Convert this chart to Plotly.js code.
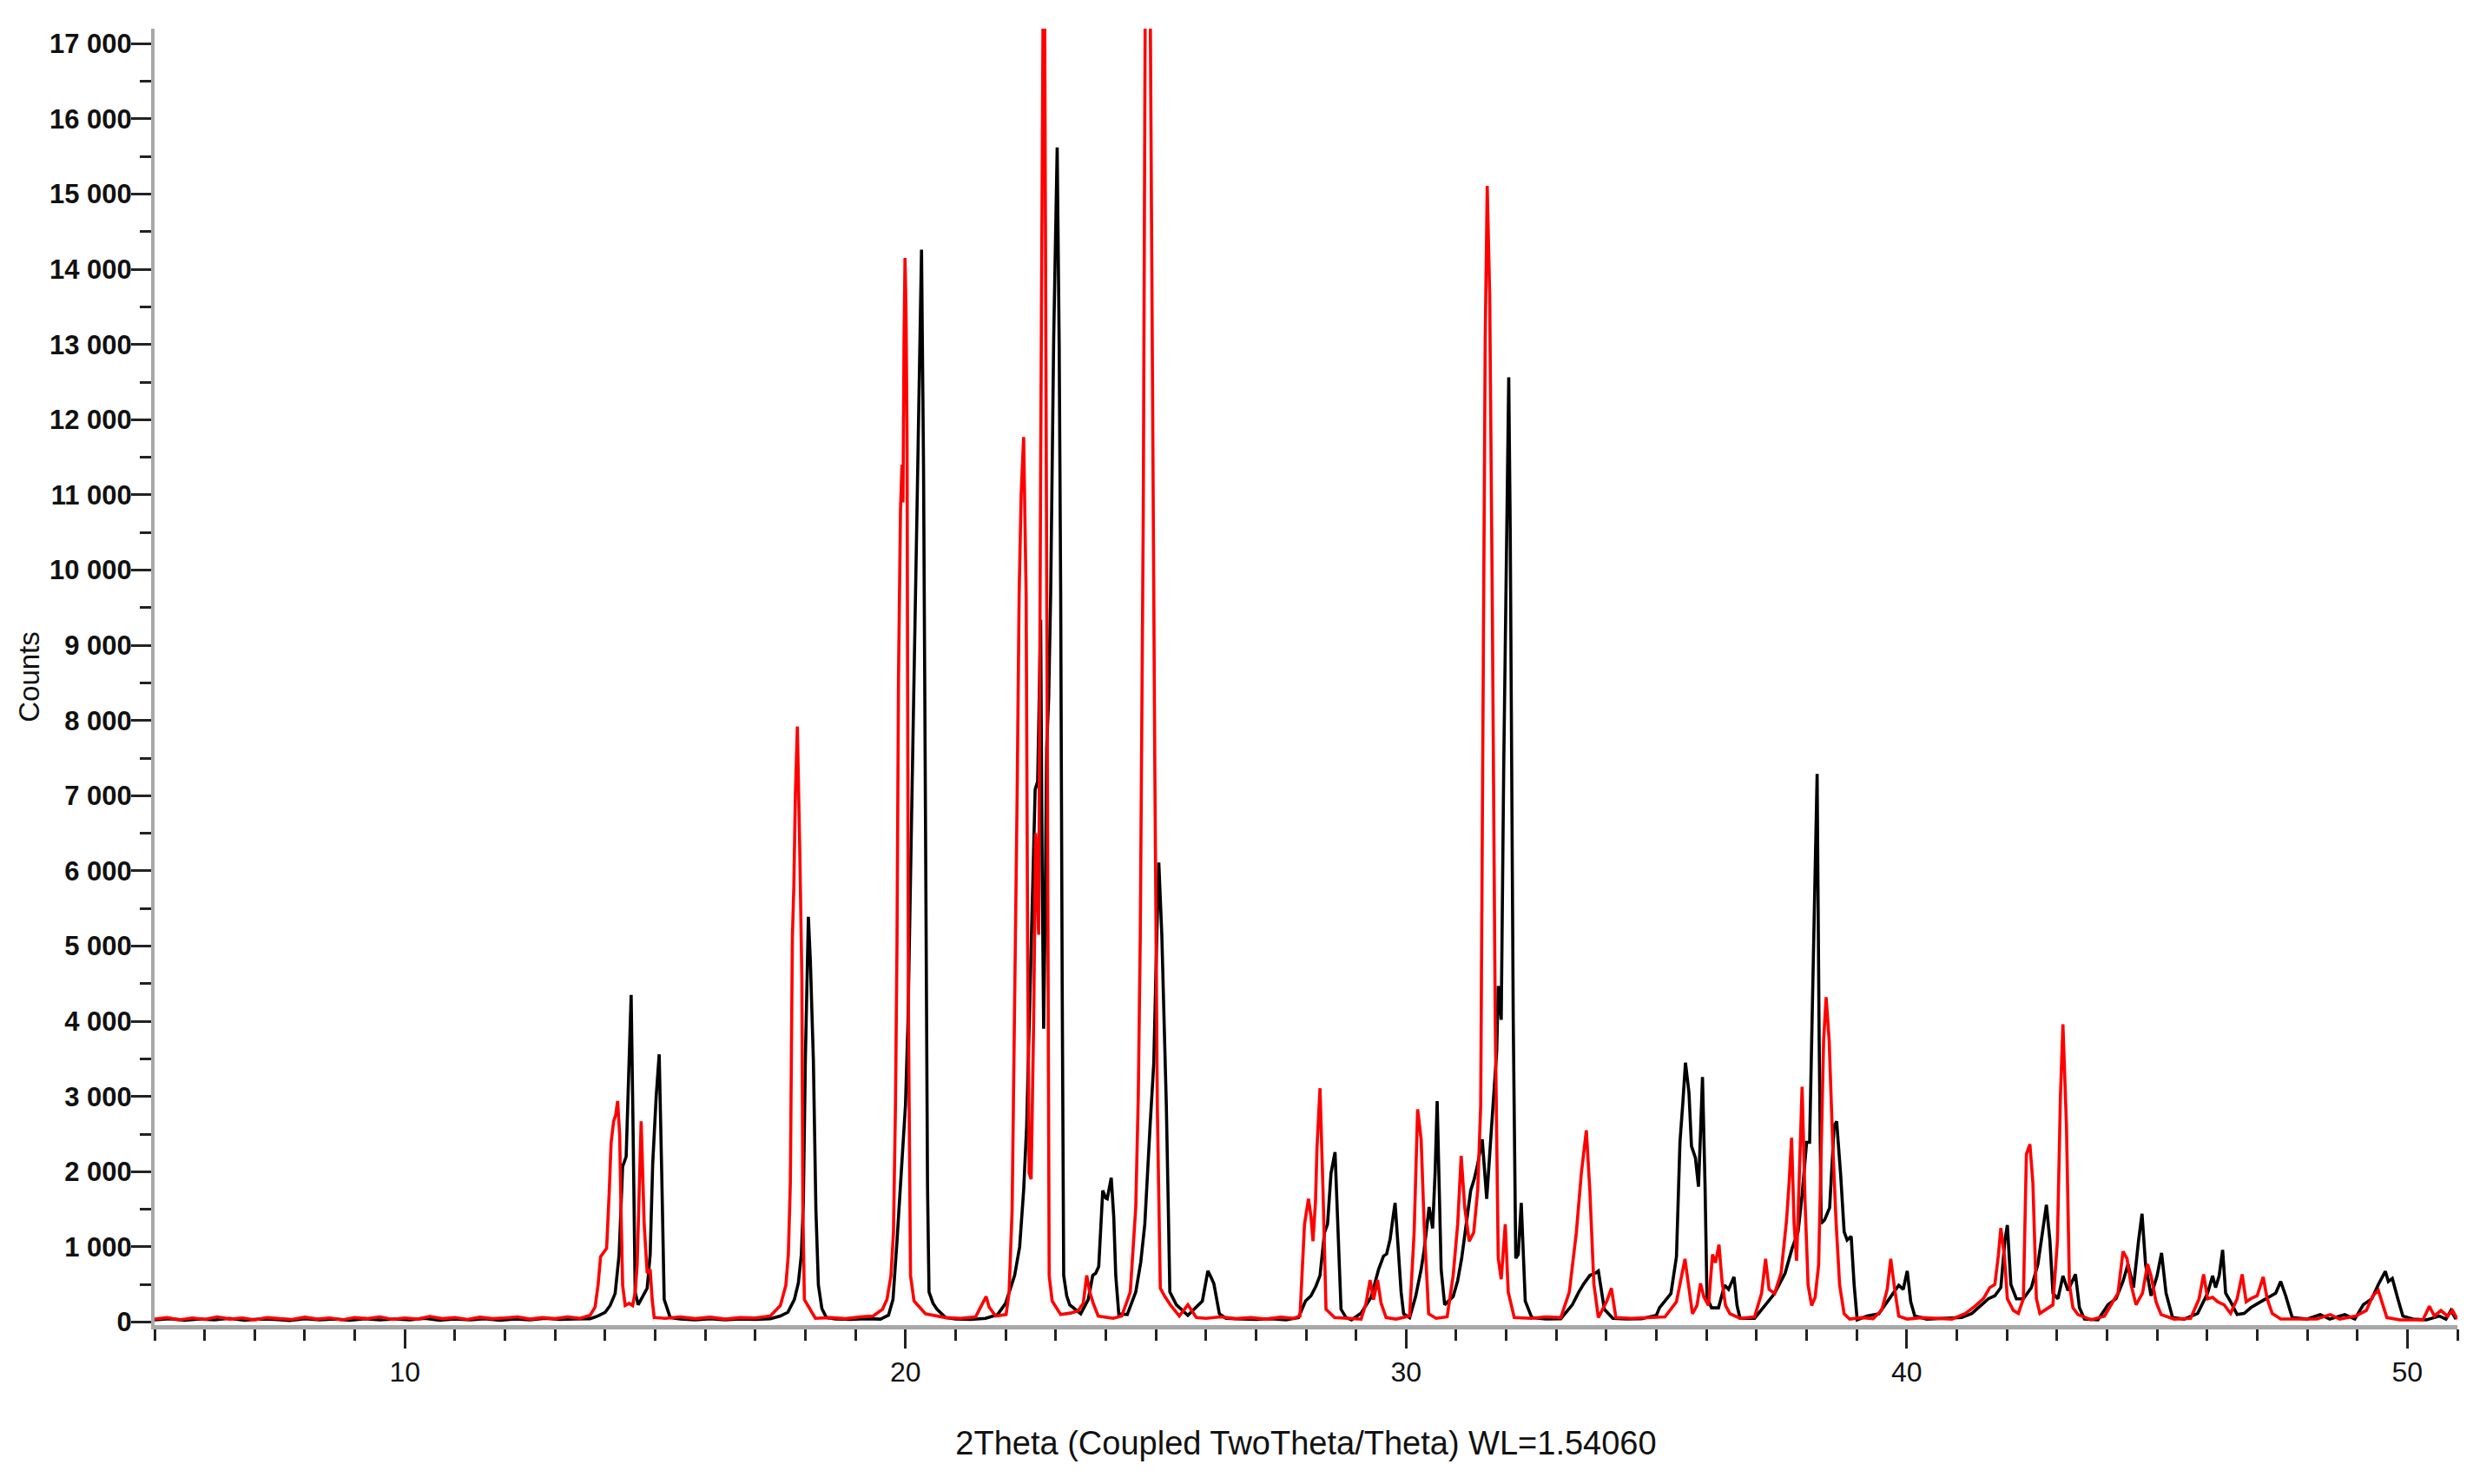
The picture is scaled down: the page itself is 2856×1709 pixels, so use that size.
<!DOCTYPE html>
<html>
<head>
<meta charset="utf-8">
<script src="https://cdn.plot.ly/plotly-3.0.1.min.js"></script>
<style>
  html, body { margin: 0; padding: 0; background: #fff; }
  #GRAPH { width: 2856px; height: 1709px; }
</style>
</head>
<body>
<div id="GRAPH"></div>
<script>
// 2Theta positions and counts
var blackX = [
  5.0, 5.3, 5.6, 5.9, 6.2, 6.5, 6.8, 7.1, 7.4, 7.7, 8.0, 8.3, 8.6, 8.9, 9.2, 9.5, 9.8, 10.1, 10.4, 10.7,
  11.0, 11.3, 11.6, 11.9, 12.2, 12.5, 12.8, 13.1, 13.4, 13.7,
  13.85, 14.0, 14.1, 14.2, 14.28, 14.35, 14.42, 14.47, 14.52, 14.56, 14.6, 14.66, 14.75, 14.84, 14.9, 14.95,
  15.02, 15.08, 15.13, 15.18, 15.3, 15.5, 15.8, 16.1, 16.4, 16.7, 17.0, 17.3,
  17.5, 17.65, 17.78, 17.86, 17.92, 17.96, 18.0, 18.03, 18.06, 18.1, 18.16, 18.21, 18.26, 18.33, 18.42, 18.6,
  18.9, 19.2, 19.5,
  19.66, 19.75, 19.83, 19.92, 20.0, 20.05, 20.09, 20.13, 20.17, 20.23, 20.28, 20.32, 20.36, 20.39, 20.41,
  20.44, 20.47, 20.55, 20.63, 20.8, 21.0, 21.3, 21.6, 21.84,
  22.0, 22.18, 22.28, 22.36, 22.42, 22.47, 22.53, 22.59, 22.64, 22.7, 22.73, 22.76, 22.79, 22.82, 22.86,
  22.9, 22.96, 23.03, 23.07, 23.1, 23.13, 23.16, 23.22, 23.28, 23.5, 23.65,
  23.74, 23.8, 23.86, 23.94, 24.0, 24.03, 24.11, 24.16, 24.2, 24.26, 24.43, 24.6, 24.7, 24.78, 24.89, 24.96,
  25.02, 25.06, 25.12, 25.17, 25.21, 25.25, 25.28, 25.41, 25.64, 25.93, 26.04, 26.1, 26.16, 26.27, 26.4,
  26.7, 27.0, 27.3, 27.6, 27.85,
  27.99, 28.1, 28.2, 28.28, 28.37, 28.43, 28.5, 28.58, 28.64, 28.7, 28.8, 28.91,
  29.1, 29.3, 29.45, 29.55, 29.61, 29.68, 29.74, 29.78, 29.84, 29.9, 29.95, 30.07, 30.19, 30.3, 30.36,
  30.46, 30.53, 30.58, 30.62, 30.66, 30.7, 30.77, 30.94, 31.03, 31.11, 31.2, 31.29, 31.36, 31.43, 31.52,
  31.61, 31.69, 31.76, 31.81, 31.84, 31.9, 31.95, 32.01, 32.05, 32.08, 32.1, 32.14, 32.19, 32.24, 32.3,
  32.34, 32.38, 32.51, 32.8, 33.09, 33.32, 33.45, 33.55, 33.67, 33.78, 33.84, 33.9, 33.96, 34.13, 34.4,
  34.7, 35.0,
  35.06, 35.17, 35.29, 35.4, 35.47, 35.53, 35.58, 35.65, 35.7, 35.78, 35.84, 35.88, 35.92, 35.97, 36.01,
  36.1, 36.24, 36.36, 36.44, 36.55, 36.61, 36.67, 36.96, 37.13, 37.36, 37.57, 37.71, 37.83, 37.91, 38.0,
  38.06, 38.11, 38.17, 38.21, 38.25, 38.29, 38.36, 38.46, 38.55, 38.6, 38.68, 38.75, 38.81, 38.89, 38.95,
  39.01, 39.21, 39.44, 39.61, 39.73, 39.84, 39.93, 40.01, 40.08, 40.16, 40.4, 40.7,
  41.1, 41.3, 41.5, 41.63, 41.76, 41.88, 41.96, 42.01, 42.08, 42.19, 42.33, 42.49, 42.62, 42.72, 42.79,
  42.86, 42.92, 43.02, 43.12, 43.22, 43.37, 43.45, 43.55, 43.82, 44.02, 44.18, 44.32, 44.42, 44.53, 44.63,
  44.7, 44.77, 44.88, 45.0, 45.09, 45.18, 45.31, 45.54, 45.81, 46.01, 46.11, 46.17, 46.24, 46.31, 46.37,
  46.47, 46.6, 46.74, 46.87, 47.07, 47.27, 47.37, 47.47, 47.57, 47.7, 48.0, 48.26, 48.45, 48.75, 48.95,
  49.12, 49.29, 49.42, 49.56, 49.62, 49.7, 49.81, 49.91, 50.11, 50.38, 50.64, 50.77, 50.87, 50.97
];
var blackY = [
  30, 45, 25, 40, 30, 50, 25, 40, 35, 20, 45, 30, 40, 25, 45, 30, 40, 30, 50, 25,
  40, 30, 45, 25, 40, 30, 50, 35, 40, 45,
  80, 130, 220, 380, 900, 2070, 2200, 3300, 4350, 2500, 400, 230, 330, 450, 900, 2100,
  3000, 3560, 2000, 300, 60, 40, 30, 45, 30, 40, 35, 45,
  80, 130, 300, 520, 900, 1600, 3500, 4600, 5390, 4800, 3480, 1500, 490, 180, 60, 40,
  35, 45, 40,
  90, 300, 1075, 2000, 2890, 4000, 5720, 7100, 8550, 10800, 12500, 14260, 11400, 7500, 4000,
  1800, 400, 250, 170, 60, 40, 35, 50, 100,
  250, 620, 1000, 1750, 2600, 4000, 5700, 7080, 7190, 9340, 6000, 3900, 5500, 7640, 8300,
  9680, 13070, 15620, 13000, 9680, 4500, 620, 350, 230, 110, 300,
  620, 650, 740, 1750, 1650, 1640, 1920, 1400, 620, 110, 100, 400, 800, 1300, 2660, 3450,
  5150, 6110, 5150, 4000, 2890, 1500, 400, 230, 90, 280, 680, 600, 510, 110, 50,
  40, 35, 45, 30, 60,
  280, 350, 480, 620, 1190, 1300, 1980, 2260, 1190, 170, 60, 30,
  120, 330, 700, 880, 905, 1100, 1400, 1585, 1000, 400, 110, 60, 340, 700, 960,
  1530, 1245, 2000, 2940, 1800, 700, 230, 340, 550, 850, 1300, 1750, 1900, 2100, 2430,
  1640, 2430, 3110, 3600, 4470, 4020, 7415, 10800, 12565, 10500, 8550, 4020, 850, 900, 1585,
  900, 280, 60, 40, 45, 230, 400, 510, 620, 650, 680, 450, 170, 50, 40,
  45, 90,
  190, 280, 380, 870, 2390, 2940, 3450, 3050, 2340, 2180, 1800, 2500, 3260, 1850, 330,
  190, 190, 490, 435, 600, 220, 50, 50, 190, 380, 650, 980, 1200, 1690, 2390,
  2390, 4030, 6200, 7290, 3810, 1310, 1360, 1520, 2610, 2670, 1960, 1200, 1090, 1140, 490,
  30, 80, 110, 270, 380, 490, 435, 680, 270, 80, 40, 45,
  60, 115, 230, 310, 350, 460, 1080, 1290, 500, 310, 310, 460, 770, 1230, 1560,
  1080, 385, 310, 615, 420, 635, 190, 40, 30, 230, 310, 540, 770, 460, 1080,
  1440, 770, 350, 615, 920, 385, 60, 40, 115, 385, 615, 460, 615, 960, 385,
  270, 100, 115, 190, 270, 350, 385, 540, 350, 60, 40, 100, 40, 100, 40,
  230, 310, 500, 675, 540, 580, 310, 80, 40, 30, 80, 40, 155, 40
];

var redX = [
  5.0, 5.25, 5.5, 5.75, 6.0, 6.25, 6.5, 6.75, 7.0, 7.25, 7.5, 7.75, 8.0, 8.25, 8.5, 8.75, 9.0, 9.25, 9.5, 9.75,
  10.0, 10.25, 10.5, 10.75, 11.0, 11.25, 11.5, 11.75, 12.0, 12.25, 12.5, 12.75, 13.0, 13.25, 13.5, 13.7,
  13.8, 13.86, 13.91, 14.03, 14.08, 14.12, 14.17, 14.21, 14.25, 14.29, 14.32, 14.35, 14.4, 14.48, 14.55,
  14.6, 14.64, 14.68, 14.72, 14.75, 14.78, 14.84, 14.9, 14.94, 14.98, 15.2, 15.5, 15.8, 16.1, 16.4, 16.7,
  17.0, 17.3,
  17.5, 17.61, 17.66, 17.7, 17.74, 17.77, 17.8, 17.84, 17.89, 17.93, 17.95, 17.98, 18.05, 18.2, 18.5, 18.8,
  19.1, 19.35, 19.54,
  19.63, 19.71, 19.76, 19.8, 19.83, 19.86, 19.9, 19.93, 19.95, 19.97, 19.99, 20.01, 20.03, 20.06, 20.1,
  20.17, 20.4, 20.8, 21.1, 21.4, 21.55, 21.61, 21.67, 21.8, 22.01,
  22.07, 22.13, 22.18, 22.23, 22.27, 22.31, 22.36, 22.41, 22.44, 22.47, 22.51, 22.56, 22.6, 22.63, 22.66,
  22.7, 22.74, 22.76, 22.78, 22.82, 22.85, 22.87, 22.93, 23.1, 23.3, 23.45, 23.55, 23.62, 23.68, 23.75,
  23.85, 24.0, 24.15, 24.32, 24.49, 24.6, 24.65, 24.69, 24.75, 24.8, 24.84, 24.88, 24.92, 24.95, 24.98,
  25.03, 25.09, 25.18, 25.29, 25.47, 25.64, 25.81, 26.0, 26.3, 26.6, 26.9, 27.2, 27.5, 27.75, 27.88,
  27.97, 28.05, 28.1, 28.14, 28.19, 28.22, 28.28, 28.34, 28.4, 28.57, 28.8, 29.1, 29.2, 29.28, 29.35,
  29.43, 29.5, 29.6, 29.8, 30.07, 30.16, 30.23, 30.3, 30.36, 30.45, 30.6, 30.82, 30.94, 31.03, 31.1,
  31.17, 31.26, 31.35, 31.43, 31.49, 31.53, 31.58, 31.62, 31.67, 31.72, 31.78, 31.84, 31.9, 31.98, 32.04,
  32.16, 32.5, 32.8, 33.09, 33.26, 33.4, 33.5, 33.6, 33.67, 33.75, 33.84, 34.01, 34.1, 34.19, 34.5,
  34.8, 35.17, 35.4, 35.49, 35.57, 35.63, 35.72, 35.81, 35.88, 35.95, 36.04, 36.12, 36.18, 36.25, 36.31,
  36.38, 36.47, 36.67, 36.96, 37.1, 37.18, 37.25, 37.36, 37.49, 37.6, 37.65, 37.7, 37.75, 37.8, 37.85,
  37.91, 37.97, 38.03, 38.1, 38.17, 38.24, 38.29, 38.34, 38.39, 38.45, 38.52, 38.59, 38.66, 38.75, 38.86,
  39.1, 39.33, 39.5, 39.61, 39.68, 39.76, 39.84, 40.01, 40.3, 40.6, 40.9,
  41.17, 41.36, 41.53, 41.66, 41.76, 41.83, 41.88, 41.95, 42.01, 42.13, 42.23, 42.33, 42.39, 42.46, 42.52,
  42.59, 42.66, 42.82, 42.92, 43.01, 43.07, 43.12, 43.19, 43.25, 43.32, 43.42, 43.68, 43.95, 44.08, 44.22,
  44.32, 44.4, 44.48, 44.58, 44.71, 44.81, 44.88, 44.98, 45.08, 45.34, 45.67, 45.84, 45.93, 46.01, 46.11,
  46.21, 46.34, 46.47, 46.6, 46.7, 46.78, 46.87, 47.0, 47.12, 47.2, 47.3, 47.47, 48.19, 48.46, 48.65,
  48.97, 49.18, 49.31, 49.42, 49.51, 49.59, 49.85, 50.31, 50.44, 50.54, 50.67, 50.8, 50.9, 51.0
];
var redY = [
  40, 60, 30, 55, 35, 70, 40, 55, 30, 60, 45, 35, 65, 40, 55, 30, 60, 45, 70, 35,
  55, 40, 75, 45, 60, 35, 65, 45, 55, 70, 40, 60, 45, 70, 50, 90,
  200, 500, 870, 980, 1700, 2390, 2670, 2750, 2940, 2500, 1400, 490, 220, 250, 220,
  400, 760, 1800, 2670, 2000, 1300, 650, 700, 300, 60, 50, 70, 45, 65, 40, 60,
  55, 80,
  220, 490, 900, 1850, 5100, 5800, 7000, 7920, 6200, 4570, 1500, 300, 220, 50, 60, 45,
  70, 80, 170,
  300, 620, 1200, 2890, 5000, 8550, 10800, 11400, 10900, 13000, 14150, 13500, 11900, 4000, 620,
  280, 110, 60, 50, 70, 250, 340, 200, 80, 100,
  400, 1500, 4000, 7000, 9680, 11000, 11770, 9680, 5000, 1980, 1900, 4000, 6500, 5800, 5150,
  11380, 17500, 19000, 17500, 10000, 4000, 620, 280, 100, 120, 150, 250, 620, 400, 250,
  80, 60, 50, 80, 400, 1530, 3000, 5150, 10800, 19500, 22000, 18500, 13640, 10800, 7400,
  2890, 450, 340, 230, 80, 230, 60, 50, 70, 45, 60, 40, 65, 50, 80,
  1300, 1640, 1400, 1075, 1600, 2320, 3110, 1750, 170, 60, 50, 40, 250, 560, 300,
  560, 250, 60, 40, 80, 1190, 2830, 2430, 1300, 110, 50, 70, 620, 1300, 2210,
  1530, 1075, 1190, 1750, 2890, 7415, 13070, 15110, 13640, 9680, 4020, 850, 570, 1300, 400,
  60, 50, 70, 60, 400, 1190, 1980, 2550, 1750, 510, 60, 280, 450, 60, 50,
  60, 70, 270, 600, 840, 545, 110, 220, 515, 330, 220, 900, 790, 1030, 545,
  220, 110, 50, 70, 380, 840, 435, 380, 650, 1360, 1850, 2450, 1310, 815, 1850,
  3130, 1580, 490, 220, 330, 760, 2390, 3750, 4320, 3750, 2390, 1310, 490, 110, 40,
  60, 45, 160, 435, 840, 435, 80, 40, 60, 50, 40,
  115, 210, 310, 460, 500, 885, 1250, 885, 310, 155, 115, 310, 2230, 2365, 1850,
  310, 115, 190, 230, 1080, 3000, 3960, 2620, 500, 190, 100, 30, 80, 230, 385,
  940, 845, 500, 230, 385, 770, 615, 270, 100, 40, 50, 310, 635, 310, 330,
  270, 230, 115, 310, 635, 270, 310, 350, 600, 310, 115, 40, 40, 100, 40,
  80, 155, 350, 420, 230, 60, 30, 30, 210, 80, 155, 80, 155, 40
];

var FONT = '"Liberation Sans", Arial, sans-serif';

function CreateColorTrace(xpoints, ypoints, name, RGBcolor) {
  var trace = {
    x: xpoints,
    y: ypoints,
    type: 'scatter',
    mode: 'lines',
    name: name,
    line: {
      color: RGBcolor,
      width: 3.6
    },
    hoverinfo: 'x+y'
  };
  return trace;
}

function CreateLayout(rangex, rangey) {
  var layout = {
    width: 2856,
    height: 1709,
    paper_bgcolor: '#ffffff',
    plot_bgcolor: '#ffffff',
    showlegend: false,
    separators: '. ',
    margin: {l: 178, r: 26, t: 33, b: 183, pad: 0},
    xaxis: {
      range: rangex,
      tick0: 0,
      dtick: 10,
      ticks: 'outside',
      ticklen: 22,
      tickwidth: 3,
      tickcolor: '#222',
      minor: {dtick: 1, ticks: 'outside', ticklen: 13, tickwidth: 3, tickcolor: '#222', showgrid: false},
      showline: true,
      linecolor: '#a8a8a8',
      linewidth: 5,
      showgrid: false,
      zeroline: false,
      layer: 'below traces',
      tickfont: {family: FONT, size: 32, color: '#111'},
      title: {
        text: '2Theta (Coupled TwoTheta/Theta) WL=1.54060',
        font: {family: FONT, size: 38, color: '#111'},
        standoff: 52
      }
    },
    yaxis: {
      range: rangey,
      tick0: 0,
      dtick: 1000,
      tickformat: ',d',
      exponentformat: 'none',
      ticks: 'outside',
      ticklen: 23,
      tickwidth: 3,
      tickcolor: '#222',
      ticklabelstandoff: -7,
      minor: {dtick: 500, ticks: 'outside', ticklen: 13, tickwidth: 3, tickcolor: '#222', showgrid: false},
      showline: true,
      linecolor: '#a8a8a8',
      linewidth: 4,
      showgrid: false,
      zeroline: false,
      separatethousands: true,
      layer: 'below traces',
      tickfont: {family: FONT, size: 31, color: '#111', weight: 'bold'},
      title: {
        text: 'Counts',
        font: {family: FONT, size: 33, color: '#111'},
        standoff: 2
      }
    }
  };
  return layout;
}

var traces = [
  CreateColorTrace(blackX, blackY, 'Sample 1', 'rgb(0, 0, 0)'),
  CreateColorTrace(redX, redY, 'Sample 2', 'rgb(255, 0, 0)')
];

Plotly.newPlot('GRAPH', traces, CreateLayout([5, 51], [-40, 17200]), {staticPlot: true});
</script>
</body>
</html>
